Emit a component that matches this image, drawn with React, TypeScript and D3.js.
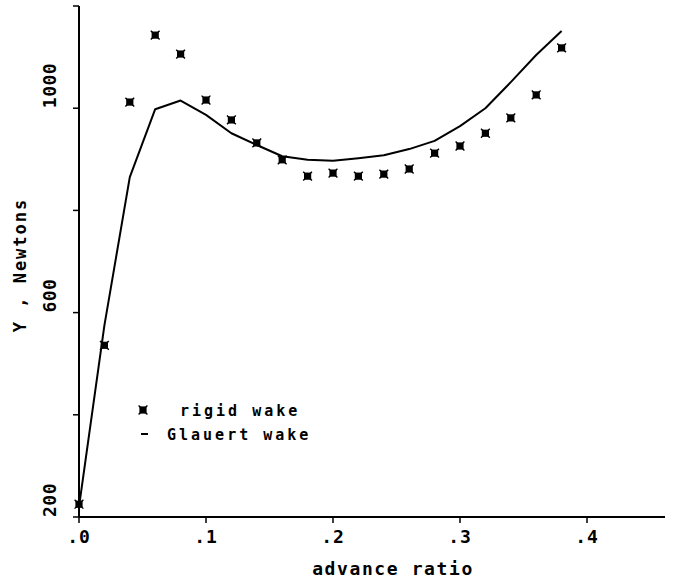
import React from "react";
import * as d3 from "d3";

// advance ratio samples
const advanceRatio = [0, 0.02, 0.04, 0.06, 0.08, 0.1, 0.12, 0.14, 0.16, 0.18, 0.2, 0.22, 0.24, 0.26, 0.28, 0.3, 0.32, 0.34, 0.36, 0.38];
// side force Y, Newtons — rigid wake model (markers)
const rigidWake = [225, 536, 1012, 1143, 1106, 1016, 977, 932, 899, 867, 873, 867, 871, 881, 912, 926, 951, 981, 1026, 1118];
// side force Y, Newtons — Glauert wake model (line)
const glauertWake = [220, 575, 865, 998, 1015, 987, 951, 928, 906, 899, 897, 902, 908, 920, 936, 965, 1000, 1051, 1104, 1151];

const xTicks = [0, 0.1, 0.2, 0.3, 0.4];
const xTickLabels = [".0", ".1", ".2", ".3", ".4"];
const yTicks = [200, 400, 600, 800, 1000, 1200];
const yLabelled = [200, 600, 1000];

const W = 673;
const H = 578;
const FONT = "'DejaVu Sans Mono', 'Liberation Mono', monospace";

function Marker({ x, y }: { x: number; y: number }) {
  const s = 3.6;
  const c = 4.4;
  return (
    <g transform={`translate(${x},${y})`}>
      <rect x={-s} y={-s} width={2 * s} height={2 * s} fill="#000" />
      <path d={`M${-c},${-c}L${c},${c}M${-c},${c}L${c},${-c}`} stroke="#000" strokeWidth={1.4} />
    </g>
  );
}

export default function App() {
  const x = d3.scaleLinear().domain([0, 0.4]).range([79, 587]);
  const y = d3.scaleLinear().domain([200, 1200]).range([517, 6]);
  const xEnd = 665;

  const line = d3
    .line<number>()
    .x((_, i) => x(advanceRatio[i]))
    .y((d) => y(d));

  return (
    <svg
      width={W}
      height={H}
      style={{ position: "absolute", left: 0, top: 0, background: "#fff" }}
      fontFamily={FONT}
      fontWeight="bold"
    >
      <rect width={W} height={H} fill="#fff" />
      {/* axes */}
      <line x1={x(0)} x2={xEnd} y1={y(200)} y2={y(200)} stroke="#000" strokeWidth={2} />
      <line x1={x(0)} x2={x(0)} y1={y(200)} y2={y(1200)} stroke="#000" strokeWidth={2} />
      {xTicks.map((t, i) => (
        <g key={`xt${i}`}>
          <line x1={x(t)} x2={x(t)} y1={y(200)} y2={y(200) + 6} stroke="#000" strokeWidth={1.5} />
          <text x={x(t)} y={543} textAnchor="middle" fontSize={18} letterSpacing={1}>
            {xTickLabels[i]}
          </text>
        </g>
      ))}
      {yTicks.map((t) => (
        <line key={`yt${t}`} x1={x(0) - 6} x2={x(0)} y1={y(t)} y2={y(t)} stroke="#000" strokeWidth={1.5} />
      ))}
      {yLabelled.map((t) => (
        <text
          key={`yl${t}`}
          transform={`translate(56,${y(t)}) rotate(-90)`}
          textAnchor="start"
          fontSize={18}
          letterSpacing={0.5}
        >
          {t}
        </text>
      ))}
      <text x={393} y={575} textAnchor="middle" fontSize={18} letterSpacing={1.6}>
        advance ratio
      </text>
      <text transform={`translate(26,265) rotate(-90)`} textAnchor="middle" fontSize={17} letterSpacing={2}>
        Y , Newtons
      </text>

      {/* Glauert wake */}
      <path d={line(glauertWake) ?? ""} fill="none" stroke="#000" strokeWidth={2} strokeLinejoin="round" />
      {/* rigid wake */}
      {rigidWake.map((v, i) => (
        <Marker key={`m${i}`} x={x(advanceRatio[i])} y={y(v)} />
      ))}

      {/* legend */}
      <Marker x={143} y={410} />
      <text x={180} y={416} fontSize={15} letterSpacing={3}>
        rigid wake
      </text>
      <line x1={141} x2={148} y1={434} y2={434} stroke="#000" strokeWidth={2} />
      <text x={167} y={440} fontSize={15} letterSpacing={3}>
        Glauert wake
      </text>
    </svg>
  );
}
